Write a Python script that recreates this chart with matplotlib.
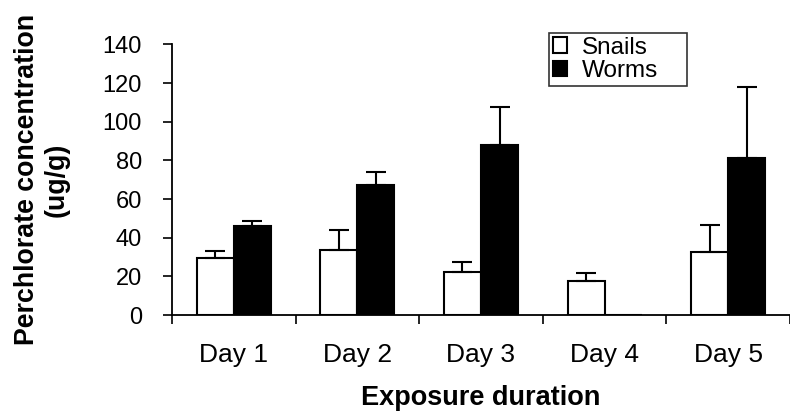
import matplotlib
matplotlib.use('Agg')
import matplotlib.pyplot as plt
import numpy as np

plt.rcParams['font.family'] = ['Liberation Sans', 'DejaVu Sans']

dias = ['Day 1', 'Day 2', 'Day 3', 'Day 4', 'Day 5']
snails = [29.5, 33.5, 22.3, 17.6, 32.6]
snails_err = [3.5, 10.5, 5.1, 4.1, 14.0]
worms = [46.0, 67.3, 88.0, 0.0, 81.3]
worms_err = [2.7, 6.7, 19.7, 0.0, 36.7]

fig = plt.figure(figsize=(7.9, 4.12), dpi=100)
ax = fig.add_axes([0.2177, 0.2354, 0.7823, 0.6566])

x = np.arange(len(dias))
width = 0.30

ax.bar(x - width/2, snails, width, color='white', edgecolor='black', linewidth=1.5, label='Snails')
ax.bar(x + width/2, worms, width, color='black', edgecolor='black', linewidth=1.5, label='Worms')

# solo la barra de error superior
ax.errorbar(x - width/2, snails, yerr=[np.zeros(5), snails_err], fmt='none', ecolor='black',
            elinewidth=1.5, capsize=7.5, capthick=1.5)
we = np.array(worms_err)
mask = np.array(worms) > 0
ax.errorbar((x + width/2)[mask], np.array(worms)[mask], yerr=[np.zeros(mask.sum()), we[mask]], fmt='none',
            ecolor='black', elinewidth=1.5, capsize=7.5, capthick=1.5)

ax.set_xlim(-0.5, 4.5)
ax.set_ylim(0, 140)
ax.set_yticks(np.arange(0, 141, 20))
ax.set_xticks(x)
ax.set_xticklabels(dias)
ax.set_xticks(np.arange(-0.5, 5, 1), minor=True)
ax.tick_params(axis='x', which='major', length=0, labelsize=19, pad=20)
ax.tick_params(axis='x', which='minor', length=6.5, width=1.2, direction='out')
ax.tick_params(axis='y', length=6.5, width=1.2, direction='out', labelsize=17, pad=15)

ax.spines['top'].set_visible(False)
ax.spines['right'].set_visible(False)
ax.spines['left'].set_linewidth(1.3)
ax.spines['bottom'].set_linewidth(1.3)

ax.set_xlabel('Exposure duration', fontsize=19.5, fontweight='bold')
ax.xaxis.set_label_coords(0.5, -0.258)
ax.set_ylabel('Perchlorate concentration\n(ug/g)', fontsize=19.3, fontweight='bold')
ax.yaxis.set_label_coords(-0.165, 0.5)

leg = ax.legend(loc='upper left', bbox_to_anchor=(0.61, 0.85, 0.2233, 0.1925), mode='expand',
                fontsize=17.5, frameon=True, fancybox=False,
                edgecolor='black', handlelength=0.6, handleheight=0.6, handletextpad=0.6,
                borderpad=0.15, labelspacing=0.05, borderaxespad=0)
leg.get_frame().set_linewidth(1.2)

plt.savefig('out.png', dpi=100)
